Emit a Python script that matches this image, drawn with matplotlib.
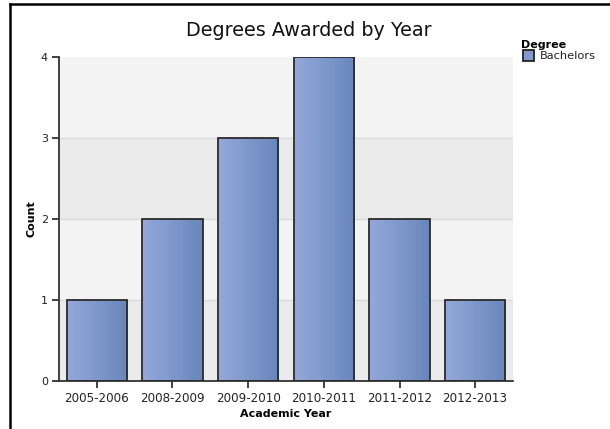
import numpy as np
import matplotlib
matplotlib.use("Agg")
import matplotlib.pyplot as plt
from matplotlib.colors import LinearSegmentedColormap
from matplotlib.patches import Rectangle
from matplotlib.lines import Line2D

years = ["2005-2006", "2008-2009", "2009-2010", "2010-2011", "2011-2012", "2012-2013"]
counts = [1, 2, 3, 4, 2, 1]
series_name = "Bachelors"
y_ticks = [0, 1, 2, 3, 4]

plt.rcParams['font.family'] = ['DejaVu Sans']

fig = plt.figure(figsize=(6.1, 4.29), dpi=100)
ax = fig.add_axes([0.0967, 0.1119, 0.7443, 0.7551])

# alternating background bands and light grid
band_colors = ["#ebebeb", "#f3f3f3"]
for i in range(len(y_ticks) - 1):
    ax.axhspan(y_ticks[i], y_ticks[i + 1], color=band_colors[i % 2], zorder=0, lw=0)
for t in y_ticks[1:-1]:
    ax.axhline(t, color="#dadada", lw=1, zorder=0.5)

grad_cmap = LinearSegmentedColormap.from_list("bar", ["#95a8da", "#7f98cb", "#6886ba"])
gradient = np.linspace(0, 1, 256).reshape(1, -1)

x = np.arange(len(years))
bars = ax.bar(x, counts, width=0.8, facecolor="none", edgecolor="#2b2b2b", lw=1.3, zorder=3)
for b in bars:
    x0, y0 = b.get_x(), b.get_y()
    w, h = b.get_width(), b.get_height()
    im = ax.imshow(gradient, cmap=grad_cmap, extent=[x0, x0 + w, y0, y0 + h],
                   aspect="auto", zorder=2, interpolation="bilinear")
    im.set_clip_path(b)

ax.set_xlim(-0.5, len(years) - 0.5)
ax.set_ylim(0, 4)
ax.set_xticks(x)
ax.set_xticklabels(years, fontsize=8.6, color="#222222")
ax.set_yticks(y_ticks)
ax.set_yticklabels([str(t) for t in y_ticks], fontsize=8, color="#222222")
ax.tick_params(axis="both", length=5, width=1.3, color="#333333", direction="out", pad=3)

for s in ["top", "right"]:
    ax.spines[s].set_visible(False)
for s in ["left", "bottom"]:
    ax.spines[s].set_color("#333333")
    ax.spines[s].set_linewidth(1.3)

ax.set_xlabel("Academic Year", fontsize=8, fontweight="bold", labelpad=3)
ax.set_ylabel("Count", fontsize=8, fontweight="bold", labelpad=3)

fig.text(0.507, 0.93, "Degrees Awarded by Year", fontsize=13.8, ha="center", va="center",
         color="#111111")

# legend
fig.text(0.854, 0.895, "Degree", fontsize=8, fontweight="bold", ha="left", va="center")
fig.patches.append(Rectangle((0.857, 0.857), 0.018, 0.026, transform=fig.transFigure,
                             facecolor="#8199cc", edgecolor="#222222", lw=1.3))
fig.text(0.885, 0.870, series_name, fontsize=8.2, ha="left", va="center", color="#222222")

# outer frame on the left and top
fig.add_artist(Line2D([0.0164, 0.0164], [0.0, 0.991], transform=fig.transFigure,
                      color="black", lw=1.8))
fig.add_artist(Line2D([0.0164, 1.0], [0.991, 0.991], transform=fig.transFigure,
                      color="black", lw=1.8))

fig.savefig("out.png", dpi=100, facecolor="white")
